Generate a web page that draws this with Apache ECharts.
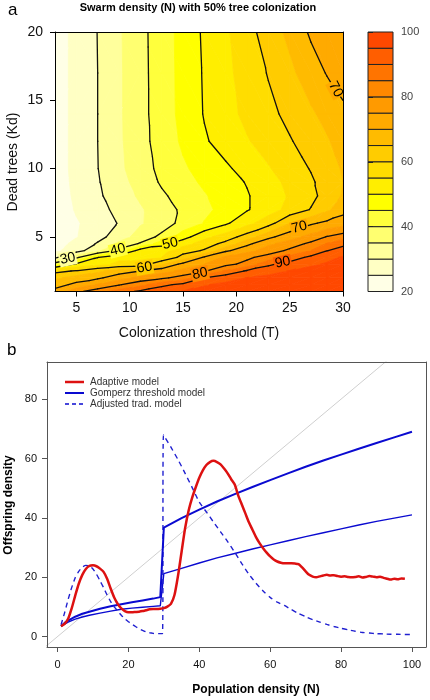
<!DOCTYPE html>
<html><head><meta charset="utf-8">
<script src="https://cdn.jsdelivr.net/npm/echarts@6/dist/echarts.min.js"></script>
<style>html,body{margin:0;padding:0;background:#fff}#c{width:430px;height:700px}</style>
</head><body><div id="c"></div><script>
// ---------- Panel a data: swarm density N on a (T, Kd) grid ----------
const T_VALUES = [3,5,7,9,11,13,15,17,19,21,23,25,27,28.5,30];
const KD_VALUES = [1,1.5,2,2.5,3,3.5,4,4.5,5,6,7,8,9,10,12,14,17,20];
const N_GRID = [
  [72,78.5,83,87.5,91,93.8,95.3,96.3,97,97.5,98,98.3,98.5,98.6,98.7],
  [67.5,71.5,75.5,79.5,83.5,88.5,91.5,94.7,96,96.8,97.4,97.8,98,98.2,98.3],
  [64,67,69,73,76.5,79,82,90,93.2,95.2,96.2,97,97.5,98,98],
  [58.5,60.5,64,67.5,70,73,76.5,79.5,86,90.7,93.3,95.3,96.5,97,97.5],
  [43,51,53.5,56,56.5,64.8,71.5,75,78.5,81.5,89,92,94.3,95.5,96.5],
  [28.5,38.6,49.8,54,54,55,62,70.8,76,79,82,86.7,91.5,93.8,95.5],
  [24,27.5,34,41.5,52.5,53.5,57.9,60.5,69,73.3,77.3,81,85,89.8,92.5],
  [23,26.3,30.5,36.2,40.5,48,53,57.3,61.5,68.6,74,77.2,81.2,85.5,88.5],
  [22,24.8,28.3,32.5,37.2,41.2,47.9,53.7,57.3,62.3,68.7,72.9,76.8,80.3,82.5],
  [21.5,24.5,27.3,30.3,34.5,37.5,41.5,45.3,49.2,53.5,57.8,65,69.2,71.2,73],
  [21.8,25.5,28.4,31.3,34.4,37.8,40.9,43.8,46.7,49.6,52.8,56.5,60.3,64,68],
  [22,26,29.2,32.4,35.8,39.2,42,44.6,47,49.6,52.5,55.5,58.6,62,65.5],
  [22.3,26.3,29.6,33.1,37,40.6,43.3,45.8,48,50.3,53.2,56.2,59.3,62,65],
  [22.5,26.5,29.9,33.9,37.8,41.3,44.3,46.9,49.2,51.8,54.6,57.5,60.3,62.8,65.5],
  [22.5,26.5,30,34.2,38.3,42.1,45.8,49.4,52.1,54.6,57.1,59.6,62.2,64.5,67],
  [22.5,26.5,30,34.3,38.4,42.5,46.4,50.3,53.3,56.2,58.7,61.3,64.3,66.5,69],
  [22.5,26.5,30,34.3,38.4,42.6,46.5,50.5,53.8,57.1,60.3,63.9,67.6,70.3,72],
  [22.5,26.5,30.1,34.4,38.5,42.7,46.6,50.8,54.3,58,62.5,66.2,70.8,72.8,74.5]
];
const LEVELS = [20,25,30,35,40,45,50,55,60,65,70,75,80,85,90,95,100];
const BAND_COLORS = ['#FFFFE6','#FFFFC4','#FFFF9C','#FFFF70','#FFFF3C','#FFFF00','#FFEE00','#FFDD00','#FFCC00','#FFBB00','#FFAA00','#FF9A00','#FF8800','#FF7400','#FF5E00','#FF4800'];
const LINE_LEVELS = [30,40,50,60,70,80,90];
// contour labels: [T, Kd, level, rotation deg]
const CONTOUR_LABELS = [[4.2,3.4,30,12],[8.9,4.05,40,14],[13.8,4.5,50,14],[11.4,2.75,60,10],[25.9,5.7,70,14],[16.6,2.3,80,12],[24.35,3.13,90,12],[29.3,15.8,70,-62]];
const X_TICKS_A = [5,10,15,20,25,30];
const Y_TICKS_A = [5,10,15,20];

// ---------- Panel b data ----------
const ADAPTIVE = [[1,3.5],[2,4.3],[3,6],[4,9.5],[5,13.8],[6,17.8],[7,20.8],[8,22.8],[9,23.8],[10,24],[11,23.7],[12,22.9],[13,21.8],[14,19.5],[15,16.2],[16,13.2],[17,11],[18,9.5],[19,8.6],[20,8.2],[21,8.2],[22,8.3],[23,8.4],[24,8.6],[25,8.9],[26,9.2],[27,9.3],[28,9.3],[29,9.4],[30,9.6],[31,10.1],[32,11],[33,14],[34,20.5],[35,28.5],[36,36.5],[37,42.5],[38,46.8],[39,50.3],[40,53.5],[41,56],[42,57.8],[43,58.8],[44,59.2],[45,58.8],[46,58],[47,56.6],[48,55],[49,53],[50,51.2],[51,47.5],[52,44.5],[53,41.5],[54,38.5],[55,36],[56,33.5],[57,31.5],[58,29.8],[59,28.3],[60,27],[61,26],[62,25.3],[63,24.9],[64,24.7],[65,24.7],[66,24.7],[67,24.6],[68,24.4],[69,23.3],[70,22],[71,20.8],[72,20.2],[73,20],[74,20.3],[75,20.6],[76,20.8],[77,20.6],[78,20.7],[79,20.4],[80,20.2],[81,20.3],[82,20.1],[83,20],[84,20.1],[85,20.3],[86,19.9],[87,20.1],[88,20.4],[89,20.2],[90,20],[91,20.2],[92,19.8],[93,19.5],[94,19.2],[95,19.5],[96,19.3],[97,19.6],[98,19.5]];
const GOMPERZ_UPPER = [[1,3.5],[2,4.6],[3,5.4],[5,6.7],[7,7.7],[9,8.4],[12,9.4],[15,10.2],[18,10.9],[21,11.6],[24,12.2],[27,12.8],[29,13.3],[30,36.7],[35,39.9],[40,42.8],[45,45.5],[50,48],[55,50.4],[60,52.7],[65,55],[70,57.2],[75,59.3],[80,61.3],[85,63.3],[90,65.2],[95,67.1],[100,69]];
const GOMPERZ_LOWER = [[1,3.5],[3,4.9],[5,5.9],[7,6.6],[9,7.2],[12,7.9],[15,8.6],[18,9.2],[21,9.6],[24,9.9],[27,10.2],[29,10.4],[30,21.2],[35,23],[40,24.8],[45,26.5],[50,28],[55,29.5],[60,30.9],[65,32.3],[70,33.7],[75,35],[80,36.3],[85,37.6],[90,38.8],[95,39.9],[100,41]];
const ADJUSTED = [[1,4],[2,8],[3,12.5],[4,16.5],[5,19.8],[6,22],[7,23.4],[8,24],[9,23.8],[10,22.8],[11,21],[12,18.8],[13,16.5],[14,14],[15,11.8],[16,10],[17,8.6],[18,7.2],[19,6],[20,5],[21,4.2],[22,3.4],[23,2.7],[24,2.1],[25,1.6],[26,1.3],[27,1.1],[28,1],[29.6,1],[29.9,67.9],[32,63.8],[34,59.6],[36,55],[38,50.2],[40,45.3],[42,42],[44,38.6],[46,35.3],[48,32],[50,28.4],[52,24.6],[54,21],[56,18],[58,15.4],[60,13.2],[62,11.6],[64,10.5],[66,9.1],[68,7.8],[70,6.7],[72,5.7],[74,4.9],[76,4.1],[78,3.4],[80,2.8],[82,2.3],[84,1.8],[86,1.4],[88,1.2],[90,1],[92,0.9],[94,0.8],[96,0.8],[98,0.7],[99.5,0.7]];
const IDENTITY = [[-10,-10],[110,110]];
const X_TICKS_B = [0,20,40,60,80,100];
const Y_TICKS_B = [0,20,40,60,80];
const LEGEND_NAMES = ['Adaptive model', 'Gomperz threshold model', 'Adjusted trad. model'];

const FONT = '"Liberation Sans", Arial, sans-serif';
const RED = '#dd1111', BLUE = '#0a0ad0';

// ---------- contour helpers ----------
function clipPoly(poly, L, keepAbove) {
  const out = [];
  for (let k = 0; k < poly.length; k++) {
    const a = poly[k], b = poly[(k + 1) % poly.length];
    const ina = keepAbove ? a.v >= L : a.v <= L;
    const inb = keepAbove ? b.v >= L : b.v <= L;
    if (ina) out.push(a);
    if (ina !== inb) {
      const t = (L - a.v) / (b.v - a.v);
      out.push({x: a.x + t * (b.x - a.x), y: a.y + t * (b.y - a.y), v: L});
    }
  }
  return out;
}
const cells = [];
for (let j = 0; j < KD_VALUES.length - 1; j++)
  for (let i = 0; i < T_VALUES.length - 1; i++)
    cells.push([(T_VALUES[i] + T_VALUES[i+1]) / 2, (KD_VALUES[j] + KD_VALUES[j+1]) / 2, i, j]);

function renderCell(params, api) {
  const i = api.value(2), j = api.value(3);
  const corner = (ii, jj) => { const p = api.coord([T_VALUES[ii], KD_VALUES[jj]]); return {x: p[0], y: p[1], v: N_GRID[jj][ii]}; };
  const c00 = corner(i, j), c10 = corner(i+1, j), c11 = corner(i+1, j+1), c01 = corner(i, j+1);
  const tris = Math.abs(c00.v - c11.v) <= Math.abs(c10.v - c01.v)
    ? [[c00, c10, c11], [c00, c11, c01]] : [[c00, c10, c01], [c10, c11, c01]];
  const children = [];
  tris.forEach(tri => {
    for (let b = 0; b < LEVELS.length - 1; b++) {
      let p = clipPoly(tri, LEVELS[b], true);
      if (p.length >= 3) p = clipPoly(p, LEVELS[b+1], false);
      if (p.length >= 3) children.push({type: 'polygon', z2: 1, shape: {points: p.map(q => [q.x, q.y])}, style: {fill: BAND_COLORS[b], stroke: BAND_COLORS[b], lineWidth: 0.8}});
    }
  });
  tris.forEach(tri => {
    LINE_LEVELS.forEach(L0 => {
      const L = L0 + 1e-4;
      const pts = [];
      for (let k = 0; k < 3; k++) {
        const a = tri[k], b = tri[(k+1)%3];
        if ((a.v - L) * (b.v - L) < 0) {
          const t = (L - a.v) / (b.v - a.v);
          pts.push([a.x + t*(b.x-a.x), a.y + t*(b.y-a.y)]);
        }
      }
      if (pts.length === 2) children.push({type: 'line', z2: 10, shape: {x1: pts[0][0], y1: pts[0][1], x2: pts[1][0], y2: pts[1][1]}, style: {stroke: '#111', lineWidth: 1.3, lineCap: 'round'}});
    });
  });
  return {type: 'group', children};
}
function renderLabel(params, api) {
  const p = api.coord([api.value(0), api.value(1)]);
  const lev = api.value(2);
  const bi = Math.min(BAND_COLORS.length - 1, (lev - 20) / 5);
  return {type: 'text', x: p[0], y: p[1], rotation: api.value(3) * Math.PI / 180, z2: 20,
    style: {text: String(lev), fontSize: 14, fontFamily: FONT, fill: '#000', align: 'center', verticalAlign: 'middle', backgroundColor: BAND_COLORS[bi], padding: [0, 1]}};
}
function renderBand(params, api) {
  const lo = api.value(0), hi = api.value(1);
  const p0 = api.coord([0, hi]), p1 = api.coord([1, lo]);
  return {type: 'rect', shape: {x: p0[0], y: p0[1], width: p1[0]-p0[0], height: p1[1]-p0[1]},
    style: {fill: BAND_COLORS[params.dataIndex], stroke: '#222', lineWidth: 1}};
}
const bandData = [];
for (let b = 0; b < LEVELS.length - 1; b++) bandData.push([LEVELS[b], LEVELS[b+1]]);

function boxAxis(gi, pos, min, max, color) {
  return {gridIndex: gi, type: 'value', position: pos, min, max, z: 10,
    axisLine: {show: true, onZero: false, lineStyle: {color, width: 1}}, axisTick: {show: false}, axisLabel: {show: false}, splitLine: {show: false}};
}
const BOX_B = '#555';
const legendStyles = [{stroke: RED, lineWidth: 2.5}, {stroke: BLUE, lineWidth: 2}, {stroke: BLUE, lineWidth: 1.6, lineDash: [4, 3]}];
const legendGraphics = [];
LEGEND_NAMES.forEach((name, k) => {
  const y = 382 + k * 11;
  legendGraphics.push({type: 'line', shape: {x1: 65, y1: y, x2: 84, y2: y}, style: legendStyles[k], z: 50});
  legendGraphics.push({type: 'text', x: 90, y: y, style: {text: name, fontSize: 10, fontFamily: FONT, fill: '#333', verticalAlign: 'middle'}, z: 50});
});

const chart = echarts.init(document.getElementById('c'), null, {renderer: 'canvas'});
chart.setOption({
  animation: false,
  backgroundColor: '#fff',
  grid: [
    {left: 55, top: 32, width: 288, height: 259.5},
    {left: 368, top: 32, width: 25, height: 259.5},
    {left: 47, top: 362, right: 4, bottom: 53}
  ],
  xAxis: [
    {gridIndex: 0, type: 'value', min: 3, max: 30, z: 10, axisLine: {show: true, onZero: false, lineStyle: {color: '#000'}},
      axisTick: {show: true, length: 5, customValues: X_TICKS_A, lineStyle: {color: '#000'}},
      axisLabel: {customValues: X_TICKS_A, fontSize: 14, fontFamily: FONT, color: '#111', margin: 10}, splitLine: {show: false}},
    boxAxis(0, 'top', 3, 30, '#000'),
    {gridIndex: 1, type: 'value', min: 0, max: 1, show: false},
    {gridIndex: 2, type: 'value', min: -2.96, max: 103.96, z: 10, axisLine: {show: true, onZero: false, lineStyle: {color: BOX_B}},
      axisTick: {show: true, length: 5, customValues: X_TICKS_B, lineStyle: {color: BOX_B}},
      axisLabel: {customValues: X_TICKS_B, fontSize: 11, fontFamily: FONT, color: '#111', margin: 12}, splitLine: {show: false}},
    boxAxis(2, 'top', -2.96, 103.96, BOX_B)
  ],
  yAxis: [
    {gridIndex: 0, type: 'value', min: 1, max: 20, z: 10, axisLine: {show: true, onZero: false, lineStyle: {color: '#000'}},
      axisTick: {show: true, length: 5, customValues: Y_TICKS_A, lineStyle: {color: '#000'}},
      axisLabel: {customValues: Y_TICKS_A, fontSize: 14, fontFamily: FONT, color: '#111', margin: 12}, splitLine: {show: false}},
    boxAxis(0, 'right', 1, 20, '#000'),
    {gridIndex: 1, type: 'value', min: 20, max: 100, interval: 20, position: 'right', z: 10,
      axisLine: {show: false}, axisTick: {show: true, length: 5, lineStyle: {color: '#222'}},
      axisLabel: {fontSize: 11, fontFamily: FONT, color: '#444', margin: 8}, splitLine: {show: false}},
    {gridIndex: 2, type: 'value', min: -3.5, max: 92.5, z: 10, axisLine: {show: true, onZero: false, lineStyle: {color: BOX_B}},
      axisTick: {show: true, length: 5, customValues: Y_TICKS_B, lineStyle: {color: BOX_B}},
      axisLabel: {customValues: Y_TICKS_B, fontSize: 11, fontFamily: FONT, color: '#111', margin: 10}, splitLine: {show: false}},
    boxAxis(2, 'right', -3.5, 92.5, BOX_B)
  ],
  graphic: [
    {type: 'text', left: 8, top: 2, style: {text: 'a', fontSize: 17, fontFamily: FONT, fill: '#000'}},
    {type: 'text', x: 198, y: 8, style: {text: 'Swarm density (N) with 50% tree colonization', fontSize: 11, fontWeight: 'bold', fontFamily: FONT, fill: '#000', align: 'center', verticalAlign: 'middle'}},
    {type: 'text', x: 199, y: 333, style: {text: 'Colonization threshold (T)', fontSize: 14, fontFamily: FONT, fill: '#111', align: 'center', verticalAlign: 'middle'}},
    {type: 'text', x: 13, y: 162, rotation: Math.PI / 2, style: {text: 'Dead trees (Kd)', fontSize: 14, fontFamily: FONT, fill: '#111', align: 'center', verticalAlign: 'middle'}},
    {type: 'text', left: 7, top: 342, style: {text: 'b', fontSize: 17, fontFamily: FONT, fill: '#000'}},
    {type: 'text', x: 256, y: 690, style: {text: 'Population density (N)', fontSize: 12, fontWeight: 'bold', fontFamily: FONT, fill: '#000', align: 'center', verticalAlign: 'middle'}},
    {type: 'text', x: 9, y: 505, rotation: Math.PI / 2, style: {text: 'Offspring density', fontSize: 12, fontWeight: 'bold', fontFamily: FONT, fill: '#000', align: 'center', verticalAlign: 'middle'}}
  ].concat(legendGraphics),
  series: [
    {type: 'custom', xAxisIndex: 0, yAxisIndex: 0, data: cells, renderItem: renderCell, clip: true, silent: true, z: 1},
    {type: 'custom', xAxisIndex: 0, yAxisIndex: 0, data: CONTOUR_LABELS, renderItem: renderLabel, clip: true, silent: true, z: 3},
    {type: 'custom', xAxisIndex: 2, yAxisIndex: 2, data: bandData, renderItem: renderBand, silent: true, z: 2},
    {type: 'line', name: 'identity', xAxisIndex: 3, yAxisIndex: 3, data: IDENTITY, symbol: 'none', clip: true, lineStyle: {color: '#cfcfcf', width: 1}, z: 1},
    {type: 'line', name: 'Gomperz lower', xAxisIndex: 3, yAxisIndex: 3, data: GOMPERZ_LOWER, symbol: 'none', lineStyle: {color: BLUE, width: 1.4}, z: 2},
    {type: 'line', name: LEGEND_NAMES[2], xAxisIndex: 3, yAxisIndex: 3, data: ADJUSTED, symbol: 'none', smooth: 0.2, lineStyle: {color: '#2020d0', width: 1.4, type: [5, 4]}, z: 2},
    {type: 'line', name: LEGEND_NAMES[1], xAxisIndex: 3, yAxisIndex: 3, data: GOMPERZ_UPPER, symbol: 'none', lineStyle: {color: BLUE, width: 2}, z: 3},
    {type: 'line', name: LEGEND_NAMES[0], xAxisIndex: 3, yAxisIndex: 3, data: ADAPTIVE, symbol: 'none', smooth: 0.25, lineStyle: {color: RED, width: 2.5}, z: 4}
  ]
});
</script></body></html>
